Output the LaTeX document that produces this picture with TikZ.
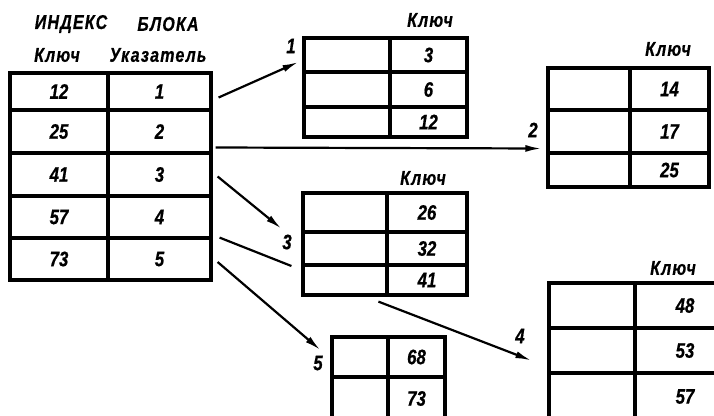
\documentclass[tikz,border=0pt]{standalone}
\usepackage{fontspec}
\newfontfamily\handfont{Liberation Sans}[FakeStretch=0.8, FakeBold=0.6]
\usepackage{tikz}
\usetikzlibrary{arrows.meta}

\begin{document}
\begin{tikzpicture}[x=1pt, y=-1pt,
  cell/.style={draw, line width=3.2pt, inner sep=0pt, font=\handfont\bfseries\itshape\fontsize{21}{21}\selectfont},
  head/.style={inner sep=0pt, font=\handfont\bfseries\itshape\fontsize{20}{20}\selectfont\addfontfeatures{LetterSpace=6}},
  num/.style={inner sep=0pt, font=\handfont\bfseries\itshape\fontsize{21}{21}\selectfont},
  arr/.style={-{Latex[length=16pt,width=7pt]}, line width=2.2pt},
  seg/.style={line width=2.2pt}
]
  \useasboundingbox (0,0) rectangle (714,415);
  \clip (0,0) rectangle (714,415);

  % Index table
  \node[head] (hidx) at (71,24) {ИНДЕКС};
  \node[head] (hblk) at (168,24) {БЛОКА};
  \node[head] (hkey) at (57,55) {Ключ};
  \node[head] (hptr) at (158,55) {Указатель};
  \node[cell, minimum width=98, minimum height=37] (k1) at (59,91.5) {12};
  \node[cell, minimum width=98, minimum height=43] (k2) at (59,131.5) {25};
  \node[cell, minimum width=98, minimum height=43] (k3) at (59,174.5) {41};
  \node[cell, minimum width=98, minimum height=42] (k4) at (59,217) {57};
  \node[cell, minimum width=98, minimum height=42] (k5) at (59,259) {73};
  \node[cell, minimum width=103, minimum height=37] (p1) at (159.5,91.5) {1};
  \node[cell, minimum width=103, minimum height=43] (p2) at (159.5,131.5) {2};
  \node[cell, minimum width=103, minimum height=43] (p3) at (159.5,174.5) {3};
  \node[cell, minimum width=103, minimum height=42] (p4) at (159.5,217) {4};
  \node[cell, minimum width=103, minimum height=42] (p5) at (159.5,259) {5};

  % Block 1
  \node[head] (kb1) at (430,20) {Ключ};
  \node[cell, minimum width=86, minimum height=34] (b1e1) at (347,55) {};
  \node[cell, minimum width=86, minimum height=35] (b1e2) at (347,89.5) {};
  \node[cell, minimum width=86, minimum height=30] (b1e3) at (347,122) {};
  \node[cell, minimum width=77, minimum height=34] (b1k1) at (428.5,55) {3};
  \node[cell, minimum width=77, minimum height=35] (b1k2) at (428.5,89.5) {6};
  \node[cell, minimum width=77, minimum height=30] (b1k3) at (428.5,122) {12};

  % Block 2
  \node[head] (kb2) at (668,49) {Ключ};
  \node[cell, minimum width=82, minimum height=42] (b2e1) at (589,89) {};
  \node[cell, minimum width=82, minimum height=43] (b2e2) at (589,131.5) {};
  \node[cell, minimum width=82, minimum height=34] (b2e3) at (589,170) {};
  \node[cell, minimum width=79, minimum height=42] (b2k1) at (669.5,89) {14};
  \node[cell, minimum width=79, minimum height=43] (b2k2) at (669.5,131.5) {17};
  \node[cell, minimum width=79, minimum height=34] (b2k3) at (669.5,170) {25};

  % Block 3
  \node[head] (kb3) at (423,178) {Ключ};
  \node[cell, minimum width=84, minimum height=39] (b3e1) at (345,212.5) {};
  \node[cell, minimum width=84, minimum height=33] (b3e2) at (345,248.5) {};
  \node[cell, minimum width=84, minimum height=30] (b3e3) at (345,280) {};
  \node[cell, minimum width=80, minimum height=39] (b3k1) at (427,212.5) {26};
  \node[cell, minimum width=80, minimum height=33] (b3k2) at (427,248.5) {32};
  \node[cell, minimum width=80, minimum height=30] (b3k3) at (427,280) {41};

  % Block 4
  \node[head] (kb4) at (673,268) {Ключ};
  \node[cell, minimum width=86, minimum height=45] (b4e1) at (592,305.5) {};
  \node[cell, minimum width=86, minimum height=45] (b4e2) at (592,350.5) {};
  \node[cell, minimum width=86, minimum height=47] (b4e3) at (592,396.5) {};
  \node[cell, minimum width=100, minimum height=45] (b4k1) at (685,305.5) {48};
  \node[cell, minimum width=100, minimum height=45] (b4k2) at (685,350.5) {53};
  \node[cell, minimum width=100, minimum height=47] (b4k3) at (685,396.5) {57};

  % Block 5
  \node[cell, minimum width=56, minimum height=40] (b5e1) at (360,357) {};
  \node[cell, minimum width=56, minimum height=43] (b5e2) at (360,398.5) {};
  \node[cell, minimum width=57, minimum height=40] (b5k1) at (416.5,357) {68};
  \node[cell, minimum width=57, minimum height=43] (b5k2) at (416.5,398.5) {73};

  % Pointer numbers
  \node[num] (n1) at (291,46) {1};
  \node[num] (n2) at (533,130) {2};
  \node[num] (n3) at (287,242) {3};
  \node[num] (n4) at (520,336) {4};
  \node[num] (n5) at (318,363) {5};

  % Arrows
  \draw[arr] ([xshift=6pt,yshift=-6pt]p1.east) -- ([xshift=-4pt,yshift=-7pt]b1e1.west);
  \draw[arr] ([xshift=3pt,yshift=-16pt]p2.east) -- ([xshift=-5pt,yshift=-17pt]b2e2.west);
  \draw[arr] ([xshift=5pt,yshift=-2pt]p3.east) -- ([xshift=-20pt,yshift=5pt]b3e1.south west);
  \draw[seg] ([xshift=7pt,yshift=2pt]p4.south east) -- ([xshift=-10pt,yshift=14pt]b3e3.west);
  \draw[arr] ([xshift=-7pt,yshift=-5pt]b3k3.south west) -- ([xshift=-16pt,yshift=-10pt]b4e2.west);
  \draw[arr] ([xshift=5pt,yshift=-3pt]p5.east) -- ([xshift=-10pt,yshift=7pt]b5e1.west);
\end{tikzpicture}
\end{document}
